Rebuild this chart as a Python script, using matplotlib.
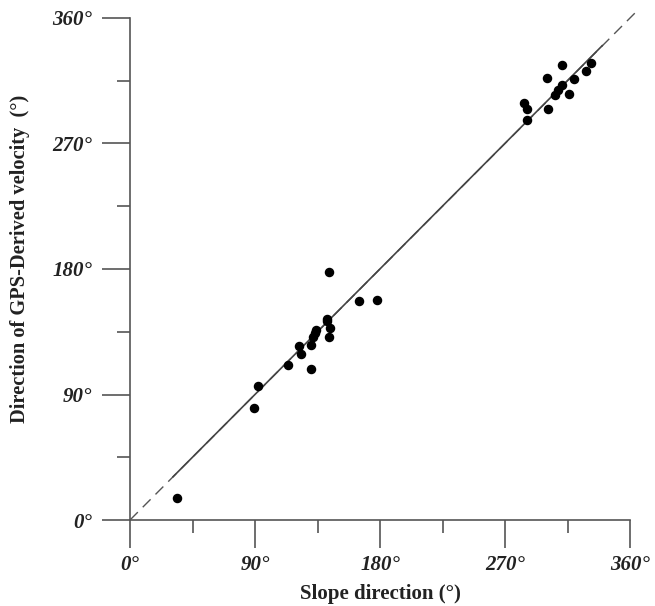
import numpy as np
import matplotlib
matplotlib.use("Agg")
import matplotlib.pyplot as plt
from matplotlib.ticker import MultipleLocator, FuncFormatter

slope_dir = [34, 89, 92, 114, 122, 123, 130, 130, 131.5, 133, 134, 142, 142, 143, 143,
             144, 165, 178,
             284, 286, 286, 300, 301, 306, 308, 311, 311, 316, 320, 328, 332]
gps_dir = [16, 80, 96, 111, 125, 119, 108, 125.5, 131.5, 134, 136, 144, 143, 178, 131,
           137.5, 157, 158,
           299, 287, 295, 317, 295, 305, 308.5, 312, 326, 305.5, 316, 322, 328]

plt.rcParams['font.family'] = ['Liberation Serif', 'DejaVu Serif']

fig = plt.figure(figsize=(6.55, 6.06), dpi=100)
ax = fig.add_axes([130/655, 1-520/606, 500/655, 502/606])

x = np.array(slope_dir, dtype=float)
y = np.array(gps_dir, dtype=float)

# 1:1 reference line
ref = np.array([0, 366])
ax.plot(ref, ref, color='#555555', lw=1.0, ls=(0, (8, 5)), clip_on=False, zorder=1)

# regression line through origin
k = np.sum(x*y) / np.sum(x*x)
xf = np.array([x.min() - 3, x.max() + 8])
ax.plot(xf, k*xf, color='#444444', lw=1.2, zorder=2)

ax.scatter(x, y, s=34, color='black', zorder=3, clip_on=False)

ax.set_xlim(0, 360)
ax.set_ylim(0, 360)
for s in ['top', 'right']:
    ax.spines[s].set_visible(False)
for s in ['left', 'bottom']:
    ax.spines[s].set_color('#555555')
    ax.spines[s].set_linewidth(1.2)

ax.xaxis.set_major_locator(MultipleLocator(90))
ax.xaxis.set_minor_locator(MultipleLocator(45))
ax.yaxis.set_major_locator(MultipleLocator(90))
ax.yaxis.set_minor_locator(MultipleLocator(45))
fmt = FuncFormatter(lambda v, p: f"{int(v)}°")
ax.xaxis.set_major_formatter(fmt)
ax.yaxis.set_major_formatter(fmt)

ax.tick_params(which='major', direction='out', length=20, width=1.2, color='#555555')
ax.tick_params(which='minor', direction='out', length=9.5, width=1.2, color='#555555')
ax.tick_params(axis='x', which='major', pad=5)
ax.tick_params(axis='y', which='major', pad=7)
for lab in ax.get_xticklabels() + ax.get_yticklabels():
    lab.set_fontstyle('italic')
    lab.set_fontweight('bold')
    lab.set_fontsize(15)
    lab.set_color('#222222')

ax.set_xlabel("Slope direction (°)", fontsize=15, fontweight='bold', labelpad=7, color='#222222')
ax.set_ylabel("Direction of GPS-Derived velocity  (°)", fontsize=14.7, fontweight='bold',
              color='#222222')
ax.yaxis.set_label_coords(-0.200, 0.52)

fig.savefig("out.png", dpi=100)
